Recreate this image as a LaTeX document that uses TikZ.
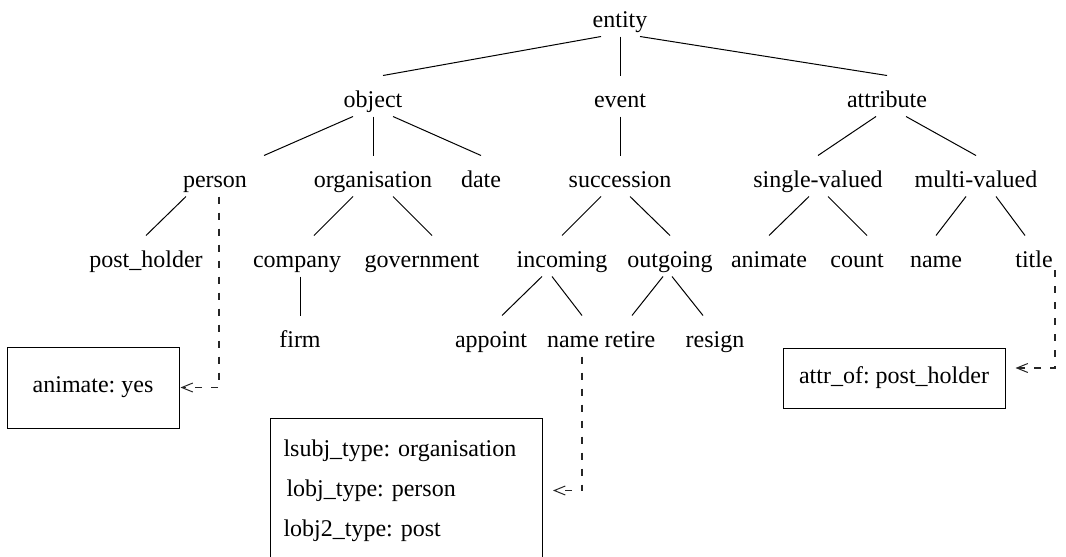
\documentclass[tikz,border=0pt]{standalone}
\usepackage{fontspec}
\setmainfont{Liberation Serif}
\usetikzlibrary{calc,arrows.meta}

\tikzset{
  tn/.style={anchor=base, inner xsep=2pt, inner ysep=4pt, text height=27pt, text depth=5pt},
  featbox/.style={draw, line width=1pt, inner xsep=13pt},
  featref/.style={draw=black!85, line width=1.1pt, dash pattern=on 7pt off 9pt,
    -{Straight Barb[length=11pt,width=9pt,line width=1pt]}}
}

\begin{document}
\frenchspacing
\begin{tikzpicture}[x=1pt, y=-1pt, font=\rmfamily\fontsize{24pt}{40pt}\selectfont, line width=1pt]
            \useasboundingbox (0,0) rectangle (1066,557);

            \node[tn] (entity) at (620, 27) {entity};

            \node[tn] (object) at (373, 107) {object};
            \node[tn] (event) at (620, 107) {event};
            \node[tn] (attribute) at (887, 107) {attribute};

            \node[tn] (person) at (215, 187) {person};
            \node[tn] (organisation) at (373, 187) {organisation};
            \node[tn] (date) at (481, 187) {date};
            \node[tn] (succession) at (620, 187) {succession};
            \node[tn] (single) at (818, 187) {single-valued};
            \node[tn] (multi) at (976, 187) {multi-valued};

            \node[tn] (postholder) at (146, 267) {post\_holder};
            \node[tn] (company) at (297, 267) {company};
            \node[tn] (government) at (422, 267) {government};
            \node[tn] (incoming) at (562, 267) {incoming};
            \node[tn] (outgoing) at (670, 267) {outgoing};
            \node[tn] (animate) at (769, 267) {animate};
            \node[tn] (count) at (857, 267) {count};
            \node[tn] (aname) at (936, 267) {name};
            \node[tn] (title) at (1034, 267) {title};

            \node[tn] (firm) at (300, 347) {firm};
            \node[tn] (appoint) at (491, 347) {appoint};
            \node[tn] (ename) at (573, 347) {name};
            \node[tn] (retire) at (630, 347) {retire};
            \node[tn] (resign) at (715, 347) {resign};

            % feature boxes
            \node[featbox, minimum width=172pt, minimum height=81pt] (yesbox) at (93, 387.5) {animate: yes};
            \node[featbox, minimum width=222pt, minimum height=60pt] (attrbox) at (894, 378) {attr\_of: post\_holder};
            \node[featbox, anchor=north west, text width=246pt, align=left, minimum height=144pt] (rolebox) at (270, 418)
                {lsubj\_type: organisation\\ \hspace{3pt}lobj\_type: person\\ lobj2\_type: post};

            % tree
            \draw ($(entity.south)+(-19,0)$) -- ($(object.north)+(10,0)$);
            \draw (entity.south) -- (event.north);
            \draw ($(entity.south)+(20,0)$) -- (attribute.north);

            \draw ($(object.south)+(-20,0)$) -- ($(person.north)+(49,0)$);
            \draw (object.south) -- (organisation.north);
            \draw ($(object.south)+(20,0)$) -- (date.north);
            \draw (event.south) -- (succession.north);
            \draw ($(attribute.south)+(-11,0)$) -- (single.north);
            \draw ($(attribute.south)+(19,0)$) -- (multi.north);

            \draw ($(person.south)+(-29,0)$) -- (postholder.north);
            \draw ($(organisation.south)+(-20,0)$) -- ($(company.north)+(17,0)$);
            \draw ($(organisation.south)+(20,0)$) -- ($(government.north)+(10,0)$);
            \draw ($(succession.south)+(-19,0)$) -- (incoming.north);
            \draw ($(succession.south)+(10,0)$) -- (outgoing.north);
            \draw ($(single.south)+(-9,0)$) -- (animate.north);
            \draw ($(single.south)+(10,0)$) -- ($(count.north)+(10,0)$);
            \draw ($(multi.south)+(-10,0)$) -- (aname.north);
            \draw ($(multi.south)+(20,0)$) -- ($(title.north)+(-9,0)$);

            \draw ($(company.south)+(3,0)$) -- (firm.north);
            \draw ($(incoming.south)+(-20,0)$) -- ($(appoint.north)+(11,0)$);
            \draw ($(incoming.south)+(-10,0)$) -- ($(ename.north)+(9,0)$);
            \draw ($(outgoing.south)+(-7,0)$) -- ($(retire.north)+(2,0)$);
            \draw ($(outgoing.south)+(2,0)$) -- ($(resign.north)+(-12,0)$);

            % references to the boxes
            \draw[featref, shorten >=1pt] ($(person.south)+(4,0)$) |- (yesbox.east);
            \draw[featref, shorten >=10pt] ($(ename.south)+(9,0)$) |- (rolebox.east);
            \draw[featref, shorten >=10pt] ($(title.base)+(21,3)$) |- ([yshift=10pt]attrbox.east);
\end{tikzpicture}
\end{document}
